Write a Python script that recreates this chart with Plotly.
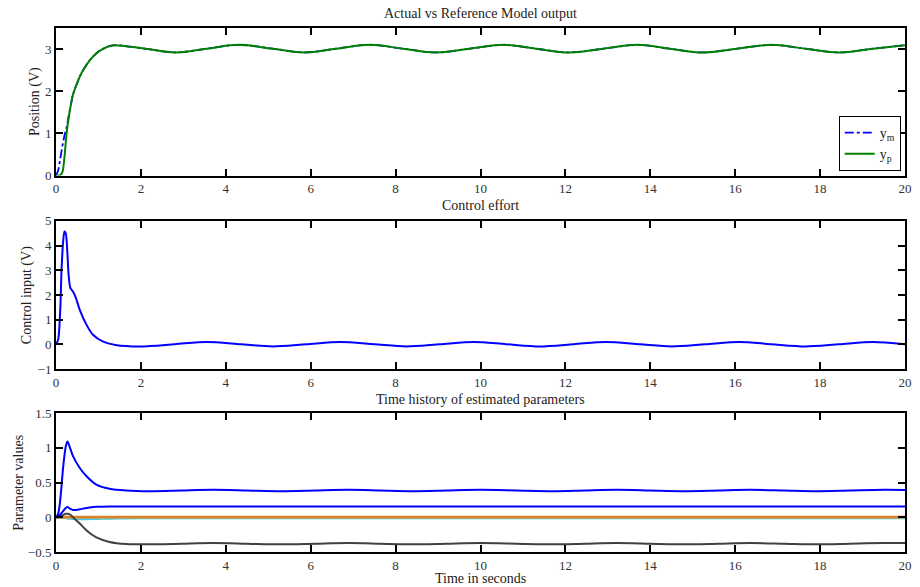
import plotly.graph_objects as go

# ---------------- data ----------------
t_pos = [0, 0.05, 0.1, 0.15, 0.2, 0.25, 0.3, 0.35, 0.4, 0.5, 0.6, 0.7, 0.8, 0.9, 1.0,
         1.1, 1.2, 1.35, 2.1, 2.82, 3.55, 4.3, 5.1, 5.86, 6.6, 7.4, 8.17, 8.94, 9.75,
         10.55, 11.3, 12.09, 12.9, 13.7, 14.45, 15.23, 16.05, 16.85, 17.65, 18.45,
         19.25, 20.0]
y_p = [0, 0.0, 0.01, 0.08, 0.45, 1.0, 1.38, 1.68, 1.92, 2.2, 2.43, 2.6, 2.74, 2.85, 2.94,
       3.0, 3.05, 3.09, 3.01, 2.92, 3.01, 3.10, 3.01, 2.92, 3.01, 3.10, 3.01, 2.92, 3.01,
       3.10, 3.01, 2.92, 3.01, 3.10, 3.01, 2.92, 3.01, 3.10, 3.01, 2.92, 3.01, 3.09]
y_m = [0, 0.12, 0.4, 0.7, 0.95, 1.15, 1.42, 1.68, 1.92, 2.2, 2.43, 2.6, 2.74, 2.85, 2.94,
       3.0, 3.05, 3.09, 3.01, 2.92, 3.01, 3.10, 3.01, 2.92, 3.01, 3.10, 3.01, 2.92, 3.01,
       3.10, 3.01, 2.92, 3.01, 3.10, 3.01, 2.92, 3.01, 3.10, 3.01, 2.92, 3.01, 3.09]

t_u = [0, 0.05, 0.1, 0.13, 0.17, 0.2, 0.23, 0.265, 0.3, 0.34, 0.4, 0.47, 0.56, 0.72,
       0.87, 1.1, 1.4, 2.0, 2.8, 3.55, 4.35, 5.1, 5.9, 6.7, 7.5, 8.25, 9.05, 9.85, 10.6,
       11.4, 12.2, 12.95, 13.75, 14.5, 15.3, 16.1, 16.85, 17.65, 18.45, 19.25, 20.0]
u = [0, 0.19, 1.4, 3.0, 4.2, 4.57, 4.5, 3.8, 2.75, 2.28, 2.14, 1.87, 1.4, 0.79, 0.39,
     0.12, -0.02, -0.08, 0.01, 0.1, 0.01, -0.08, 0.01, 0.1, 0.01, -0.08, 0.01, 0.1, 0.01,
     -0.08, 0.01, 0.1, 0.01, -0.08, 0.01, 0.1, 0.01, -0.08, 0.01, 0.1, 0.01]

t_par = [0, 0.05, 0.1, 0.17, 0.23, 0.27, 0.33, 0.4, 0.56, 0.72, 0.95, 1.26, 1.65, 2.2,
         2.95, 3.7, 4.5, 5.3, 6.1, 6.9, 7.65, 8.4, 9.2, 10.0, 10.85, 11.7, 12.45, 13.2,
         14.0, 14.8, 15.6, 16.35, 17.15, 17.9, 18.7, 19.5, 20.0]
theta1 = [0, 0.05, 0.25, 0.73, 1.02, 1.09, 1.0, 0.88, 0.71, 0.59, 0.47, 0.41, 0.385,
          0.375, 0.385, 0.395, 0.385, 0.375, 0.385, 0.395, 0.385, 0.375, 0.385, 0.395,
          0.385, 0.375, 0.385, 0.395, 0.385, 0.375, 0.385, 0.395, 0.385, 0.375, 0.385,
          0.395, 0.393]
theta2 = [0, 0.01, 0.04, 0.09, 0.135, 0.148, 0.125, 0.105, 0.115, 0.135, 0.15, 0.155,
          0.155, 0.155, 0.155, 0.155, 0.155, 0.155, 0.155, 0.155, 0.155, 0.155, 0.155,
          0.155, 0.155, 0.155, 0.155, 0.155, 0.155, 0.155, 0.155, 0.155, 0.155, 0.155,
          0.155, 0.155, 0.155]
theta3 = [0, 0.005, 0.015, 0.035, 0.05, 0.052, 0.04, 0.0, -0.09, -0.19, -0.29, -0.355,
          -0.385, -0.39, -0.38, -0.37, -0.38, -0.39, -0.38, -0.37, -0.38, -0.39, -0.38,
          -0.37, -0.38, -0.39, -0.38, -0.37, -0.38, -0.39, -0.38, -0.37, -0.38, -0.39,
          -0.38, -0.37, -0.372]
theta4 = [0, 0, 0, -0.005, -0.012, -0.018, -0.022, -0.026, -0.028, -0.027, -0.024,
          -0.02, -0.016, -0.014, -0.013, -0.013, -0.013, -0.013, -0.013, -0.013, -0.013,
          -0.013, -0.013, -0.013, -0.013, -0.013, -0.013, -0.013, -0.013, -0.013, -0.013,
          -0.013, -0.013, -0.013, -0.013, -0.013, -0.013]
theta5 = [0] + [-0.01] * 36
theta6 = [0] + [-0.002] * 36
theta7 = [0] + [0.004] * 36

x_ticks = [0, 2, 4, 6, 8, 10, 12, 14, 16, 18, 20]

# ---------------- figure ----------------
FONT = "Liberation Serif"
FS = 14
TFS = 13
fig = go.Figure()

fig.add_trace(go.Scatter(x=t_pos, y=y_m, name="y<sub>m</sub>", mode="lines",
                         line=dict(color="#0000FF", width=1.8, dash="dashdot", shape="spline"),
                         xaxis="x", yaxis="y"))
fig.add_trace(go.Scatter(x=t_pos, y=y_p, name="y<sub>p</sub>", mode="lines",
                         line=dict(color="#008000", width=2, shape="spline"),
                         xaxis="x", yaxis="y"))

fig.add_trace(go.Scatter(x=t_u, y=u, mode="lines", showlegend=False,
                         line=dict(color="#0000FF", width=2, shape="spline", smoothing=0.8),
                         xaxis="x2", yaxis="y2"))

par_series = [
    (theta5, "#5B7FA3", 1.5),
    (theta4, "#45C8E8", 2),
    (theta6, "#E0B030", 2),
    (theta7, "#D9822B", 2.5),
    (theta3, "#404040", 2),
    (theta2, "#0000FF", 2),
    (theta1, "#0000FF", 2),
]
for vals, col, w in par_series:
    fig.add_trace(go.Scatter(x=t_par, y=vals, mode="lines", showlegend=False,
                             line=dict(color=col, width=w, shape="spline", smoothing=0.8),
                             xaxis="x3", yaxis="y3"))

axis_common = dict(showline=True, linecolor="black", linewidth=2, mirror="allticks",
                   ticks="inside", ticklen=7, tickwidth=1.5, tickcolor="black",
                   showgrid=False, zeroline=False,
                   tickfont=dict(family=FONT, size=TFS, color="#333333"))

fig.update_layout(
    width=920, height=587,
    margin=dict(l=56, r=8, t=28, b=35),
    paper_bgcolor="white", plot_bgcolor="white",
    font=dict(family=FONT, size=FS, color="#222222"),
    xaxis=dict(domain=[0, 1], anchor="y", range=[0, 20], tickvals=x_ticks, **axis_common),
    yaxis=dict(domain=[0.7183, 1], anchor="x", range=[0, 3.5], tickvals=[0, 1, 2, 3],
               **axis_common),
    xaxis2=dict(domain=[0, 1], anchor="y2", range=[0, 20], tickvals=x_ticks, **axis_common),
    yaxis2=dict(domain=[0.349, 0.6319], anchor="x2", range=[-1, 5],
                tickvals=[-1, 0, 1, 2, 3, 4, 5], **axis_common),
    xaxis3=dict(domain=[0, 1], anchor="y3", range=[0, 20], tickvals=x_ticks, **axis_common),
    yaxis3=dict(domain=[0, 0.2651], anchor="x3", range=[-0.5, 1.5],
                tickvals=[-0.5, 0, 0.5, 1, 1.5], **axis_common),
    legend=dict(x=0.995, y=0.727, xanchor="right", yanchor="bottom",
                bgcolor="white", bordercolor="black", borderwidth=1,
                font=dict(family=FONT, size=FS, color="#222222"),
                tracegroupgap=0, itemwidth=30),
    showlegend=True,
)

def ann(text, x, y, angle=0):
    fig.add_annotation(text=text, x=x, y=y, xref="paper", yref="paper",
                       showarrow=False, textangle=angle, xanchor="center",
                       yanchor="middle", font=dict(family=FONT, size=FS, color="#222222"))

ann("Actual vs Reference Model output", 0.5, 1.0286)
ann("Control effort", 0.5, 0.6605)
ann("Time history of estimated parameters", 0.5, 0.2905)
ann("Time in seconds", 0.5, -0.0515)
ann("Position (V)", -0.0245, 0.859, -90)
ann("Control input (V)", -0.0339, 0.4905, -90)
ann("Parameter values", -0.0444, 0.1325, -90)

fig.write_html("out.html", config={"displayModeBar": False},
               post_script="document.body.style.margin='0';document.body.style.overflow='hidden';")
